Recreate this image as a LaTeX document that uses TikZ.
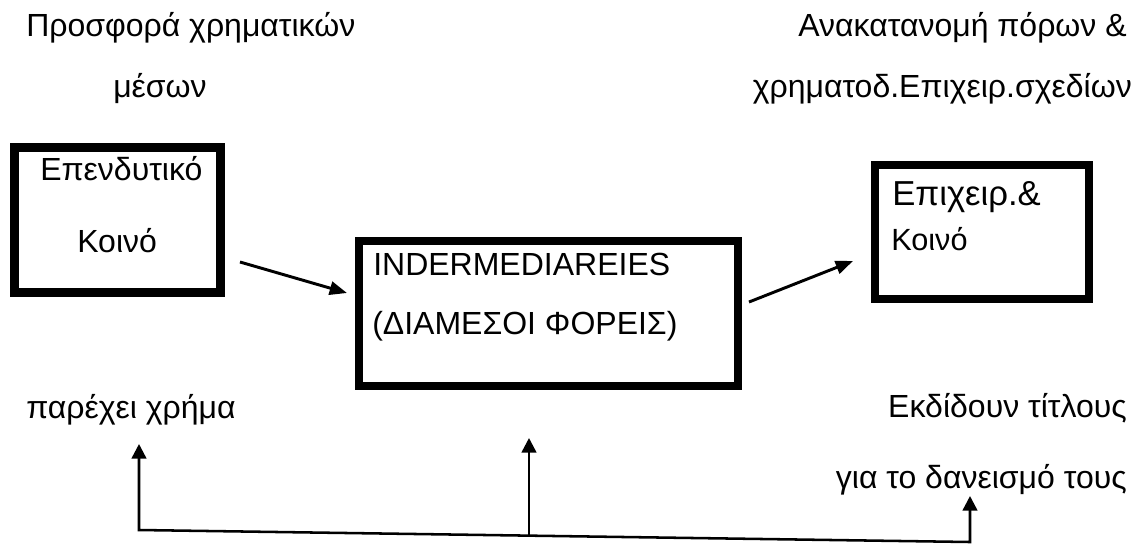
\documentclass[tikz,border=0pt]{standalone}
\usepackage{fontspec}
\setmainfont{Liberation Sans}
\usetikzlibrary{arrows.meta}

\begin{document}
\begin{tikzpicture}[x=0.75pt, y=-0.75pt,
    every node/.style={inner sep=0pt, anchor=base west, font=\fontsize{24}{28}\selectfont},
    box/.style={draw, rectangle, line width=6pt, anchor=center},
    >={Triangle[length=13pt,width=10pt]}]
        \useasboundingbox (0,0) rectangle (1138,544);
        % boxes
        \node[box, line width=6.75pt, minimum width=154.5pt, minimum height=108.75pt] (inv) at (117.5,220) {};
        \node[box, minimum width=284.25pt, minimum height=108.75pt] (mid) at (548.5,313.5) {};
        \node[box, minimum width=160.5pt, minimum height=100pt] (firm) at (982,232) {};
        % texts in the boxes
        \node (inv1) at (40,180) {Επενδυτικό};
        \node (inv2) at (77,252) {Κοινό};
        \node (mid1) at (373,275) {INDERMEDIAREIES};
        \node (mid2) at (372,334) {(ΔΙΑΜΕΣΟΙ ΦΟΡΕΙΣ)};
        \node[font=\fontsize{26}{30}\selectfont] (firm1) at (892,205) {Επιχειρ.\&};
        \node[font=\fontsize{23}{27}\selectfont] (firm2) at (891,250) {Κοινό};
        % texts round the boxes
        \node (offer1) at (26,36) {Προσφορά χρηματικών};
        \node (offer2) at (113,97) {μέσων};
        \node[anchor=base east] (alloc1) at (1127,36) {Ανακατανομή πόρων \&};
        \node[anchor=base east] (alloc2) at (1132,97) {χρηματοδ.Επιχειρ.σχεδίων};
        \node (give) at (26,418) {παρέχει χρήμα};
        \node[anchor=base east] (issue1) at (1127,417) {Εκδίδουν τίτλους};
        \node[anchor=base east] (issue2) at (1127,488) {για το δανεισμό τους};
        % arrow ends
        \coordinate (a1) at (240,262);
        \coordinate (a2) at (347,293);
        \coordinate (b1) at (749,302);
        \coordinate (b2) at (853,261);
        \coordinate (cl) at (139,530);
        \coordinate (cm) at (529,535.6);
        \coordinate (cr) at (970,542);
        \coordinate (ul) at (139,444);
        \coordinate (um) at (529,438);
        \coordinate (ur) at (970,496);
        % flow arrows
        \draw[->, line width=2.2pt] (a1) -- (a2);
        \draw[->, line width=2.2pt] (b1) -- (b2);
        % bottom line
        \draw[<->, line width=1.9pt, >={Triangle[length=11pt,width=11pt]}] (ul) -- (cl) -- (cr) -- (ur);
        \draw[->, line width=1.9pt, >={Triangle[length=11pt,width=11pt]}] (cm) -- (um);
\end{tikzpicture}
\end{document}
